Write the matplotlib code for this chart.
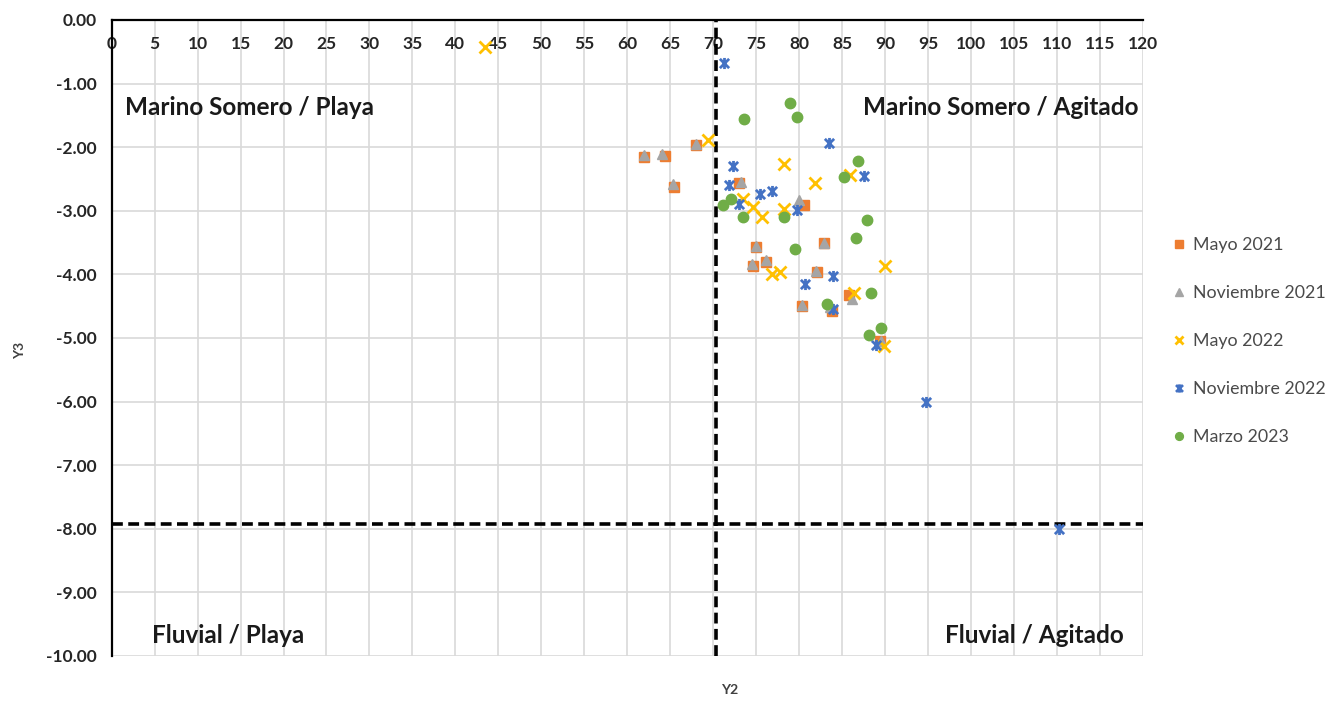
import matplotlib
matplotlib.use("Agg")
import matplotlib.pyplot as plt
from matplotlib.path import Path
from matplotlib.ticker import MultipleLocator, FormatStrFormatter

plt.rcParams['font.family'] = ['Lato', 'DejaVu Sans']

# ---- data ----
may21_x = [62.0, 64.4, 68.0, 65.5, 73.0, 80.6, 75.0, 74.7, 76.2, 82.9, 82.1, 80.4, 83.8, 85.8, 89.4]
may21_y = [-2.15, -2.14, -1.97, -2.62, -2.56, -2.91, -3.57, -3.87, -3.80, -3.50, -3.96, -4.50, -4.57, -4.33, -5.05]

nov21_x = [61.9, 64.1, 68.0, 65.3, 73.2, 80.0, 75.0, 74.5, 76.1, 82.9, 82.0, 80.4, 83.6, 86.2, 89.5]
nov21_y = [-2.13, -2.10, -1.95, -2.58, -2.55, -2.83, -3.55, -3.84, -3.77, -3.50, -3.95, -4.48, -4.52, -4.38, -5.05]

may22_x = [43.5, 69.4, 78.3, 81.9, 85.9, 73.5, 74.7, 75.7, 78.3, 76.8, 77.8, 90.0, 86.4, 89.9]
may22_y = [-0.42, -1.88, -2.27, -2.56, -2.43, -2.82, -2.94, -3.09, -2.97, -4.00, -3.97, -3.87, -4.30, -5.12]

nov22_x = [71.3, 83.5, 72.3, 87.6, 71.8, 73.0, 75.5, 76.8, 79.8, 84.0, 80.7, 84.0, 89.0, 94.8, 110.3]
nov22_y = [-0.68, -1.94, -2.30, -2.46, -2.59, -2.89, -2.74, -2.69, -2.98, -4.02, -4.15, -4.54, -5.11, -6.00, -8.00]

mar23_x = [79.0, 79.8, 73.6, 86.9, 85.2, 72.1, 71.1, 73.5, 78.3, 87.9, 86.6, 79.5, 88.4, 83.3, 89.5, 88.1]
mar23_y = [-1.30, -1.52, -1.56, -2.21, -2.47, -2.82, -2.91, -3.09, -3.10, -3.14, -3.43, -3.60, -4.30, -4.46, -4.85, -4.95]

threshold_x = 70.3
threshold_y = -7.93

quadrant_labels = ["Marino Somero / Playa", "Marino Somero / Agitado",
                   "Fluvial / Playa", "Fluvial / Agitado"]
series_labels = ["Mayo 2021", "Noviembre 2021", "Mayo 2022", "Noviembre 2022", "Marzo 2023"]

# ---- figure ----
fig = plt.figure(figsize=(13.36, 7.02), dpi=100)
ax = fig.add_axes([111.7/1336, 1-656/702, (1142.7-111.7)/1336, (656-20)/702])

star = Path([(-1, -1), (1, 1), (-1, 1), (1, -1), (0, -1.2), (0, 1.2)],
            [Path.MOVETO, Path.LINETO, Path.MOVETO, Path.LINETO, Path.MOVETO, Path.LINETO])

ax.plot(may21_x, may21_y, ls='none', marker='s', ms=7, color='#ED7D31', mec='#ED7D31', label=series_labels[0], zorder=3)
ax.plot(nov21_x, nov21_y, ls='none', marker='^', ms=7, color='#A5A5A5', mec='#A5A5A5', label=series_labels[1], zorder=3)
ax.plot(may22_x, may22_y, ls='none', marker='x', ms=8, mew=2, color='#FFC000', label=series_labels[2], zorder=3)
ax.plot(nov22_x, nov22_y, ls='none', marker=star, ms=8, mew=2, color='#4472C4', label=series_labels[3], zorder=3)
ax.plot(mar23_x, mar23_y, ls='none', marker='o', ms=7.5, color='#70AD47', mec='#70AD47', label=series_labels[4], zorder=3)

ax.axvline(threshold_x, color='black', lw=2.6, ls=(0, (3, 1.5)), zorder=2)
ax.axhline(threshold_y, color='black', lw=2.6, ls=(0, (3, 1.5)), zorder=2)

ax.set_xlim(0, 120)
ax.set_ylim(-10, 0)
ax.xaxis.set_major_locator(MultipleLocator(5))
ax.yaxis.set_major_locator(MultipleLocator(1))
ax.yaxis.set_major_formatter(FormatStrFormatter('%.2f'))
ax.grid(True, color='#D9D9D9', lw=1.2, zorder=0)
ax.set_axisbelow(True)

for s in ['right', 'bottom']:
    ax.spines[s].set_visible(False)
for s in ['left', 'top']:
    ax.spines[s].set_color('black')
    ax.spines[s].set_linewidth(1.6)

ax.tick_params(axis='x', top=True, labeltop=True, bottom=False, labelbottom=False,
               length=0, pad=-23, labelsize=12.5, labelcolor='#262626')
ax.tick_params(axis='y', length=0, pad=11, labelsize=12.5, labelcolor='#262626')
for lab in ax.get_xticklabels() + ax.get_yticklabels():
    lab.set_fontweight('bold')

tk = dict(fontsize=17.5, fontweight='bold', color='#1a1a1a', va='center')
ax.text(1.5, -1.37, quadrant_labels[0], ha='left', **tk)
ax.text(119.5, -1.37, quadrant_labels[1], ha='right', **tk)
ax.text(4.7, -9.67, quadrant_labels[2], ha='left', **tk)
ax.text(117.8, -9.67, quadrant_labels[3], ha='right', **tk)

fig.text(730/1336, 1-690/702, "Y2", ha='center', va='center', fontsize=10, fontweight='bold', color='#404040')
fig.text(20/1336, 1-350/702, "Y3", ha='center', va='center', rotation=90, fontsize=10, fontweight='bold', color='#404040')

leg = ax.legend(loc='upper left', bbox_to_anchor=(1164/1336, 1-228/702), bbox_transform=fig.transFigure,
                frameon=False, labelspacing=1.8, handlelength=0.7, handletextpad=0.45,
                markerscale=0.75, fontsize=12.8, borderpad=0)
for t in leg.get_texts():
    t.set_color('#4a4a4a')

fig.savefig('out.png', dpi=100, facecolor='white')
